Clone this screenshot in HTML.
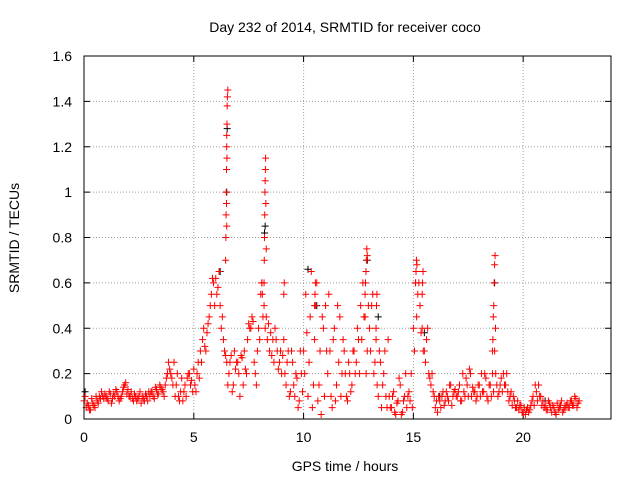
<!DOCTYPE html>
<html><head><meta charset="utf-8"><style>
html,body{margin:0;padding:0;background:#fff;}
svg text{font-family:"Liberation Sans",sans-serif;font-size:14px;fill:#000;}
</style></head><body>
<svg id="chart" width="640" height="480" xmlns="http://www.w3.org/2000/svg">
<text x="345" y="32" text-anchor="middle">Day 232 of 2014, SRMTID for receiver coco</text>
<text x="345" y="471" text-anchor="middle">GPS time / hours</text>
<text x="19" y="238" text-anchor="middle" transform="rotate(-90 19 238)">SRMTID / TECUs</text>
<g id="grid"></g>
<g id="ticks"></g>
<g id="pts"></g>
<rect x="84" y="56" width="527" height="363" fill="none" stroke="#000" stroke-width="1"/>
</svg>
<script>
const xTicks=[0,5,10,15,20];
const yTicks=[0,0.2,0.4,0.6,0.8,1,1.2,1.4,1.6];
const yTickLabels=["0","0.2","0.4","0.6","0.8","1","1.2","1.4","1.6"];
const trackA=[0.08,0.05,0.06,0.04,0.07,0.05,0.08,0.1,0.12,0.09,
0.1,0.08,0.11,0.09,0.1,0.12,0.08,0.1,0.14,0.16,
0.13,0.1,0.09,0.11,0.08,0.1,0.07,0.09,0.11,0.08,
0.1,0.12,0.09,0.13,0.11,0.14,0.12,0.15,0.2,0.22,
0.18,0.25,0.15,0.1,0.12,0.08,0.15,0.18,0.2,0.17,
0.22,0.12,0.25,0.3,0.35,0.32,0.38,0.45,0.55,0.6,
0.62,0.58,0.5,0.45,0.3,0.25,0.2,0.28,0.15,0.22,
0.25,0.1,0.27,0.3,0.2,0.42,0.4,0.43,0.2,0.3,
0.35,0.6,0.5,0.45,0.42,0.38,0.35,0.4,0.3,0.25,
0.2,0.35,0.15,0.3,0.12,0.25,0.1,0.18,0.08,0.2,
0.3,0.55,0.1,0.45,0.05,0.35,0.6,0.15,0.02,0.4,
0.5,0.2,0.3,0.05,0.4,0.15,0.25,0.1,0.35,0.2,
0.08,0.2,0.15,0.3,0.25,0.35,0.5,0.6,0.45,0.3,
0.4,0.5,0.2,0.35,0.1,0.25,0.15,0.3,0.05,0.1,
0.05,0.12,0.02,0.08,0.15,0.03,0.1,0.05,0.12,0.2,
0.4,0.6,0.55,0.5,0.4,0.3,0.35,0.2,0.15,0.12,
0.05,0.03,0.08,0.1,0.06,0.12,0.08,0.15,0.1,0.13,
0.1,0.15,0.08,0.12,0.18,0.1,0.2,0.14,0.12,0.1,
0.15,0.2,0.12,0.18,0.08,0.15,0.2,0.3,0.15,0.12,
0.18,0.2,0.15,0.12,0.1,0.06,0.08,0.05,0.04,0.06,
0.03,0.02,0.05,0.04,0.08,0.06,0.12,0.15,0.1,0.08,
0.06,0.04,0.07,0.03,0.05,0.02,0.04,0.06,0.03,0.05,
0.07,0.05,0.08,0.06,0.09,0.07];
const trackB=[0.1,0.07,0.04,0.09,0.06,0.1,0.07,0.09,0.1,0.11,
0.09,0.12,0.07,0.11,0.13,0.1,0.09,0.12,0.15,0.11,
0.1,0.12,0.08,0.1,0.09,0.12,0.1,0.08,0.1,0.12,
0.12,0.1,0.14,0.11,0.15,0.13,0.1,0.18,0.25,0.2,
0.15,0.1,0.2,0.08,0.18,0.12,0.1,0.2,0.15,0.12,
0.15,0.2,0.18,0.25,0.4,0.3,0.42,0.5,0.62,0.5,
0.55,0.65,0.4,0.35,0.28,0.15,0.25,0.12,0.3,0.25,
0.2,0.28,0.15,0.22,0.35,0.4,0.45,0.25,0.15,0.4,
0.55,0.45,0.4,0.35,0.3,0.28,0.25,0.35,0.22,0.3,
0.28,0.2,0.25,0.1,0.3,0.15,0.2,0.05,0.3,0.12,
0.2,0.38,0.25,0.65,0.15,0.5,0.08,0.3,0.45,0.1,
0.3,0.55,0.1,0.35,0.08,0.5,0.45,0.2,0.3,0.1,
0.25,0.12,0.3,0.2,0.4,0.2,0.35,0.45,0.2,0.5,
0.3,0.55,0.25,0.15,0.3,0.05,0.2,0.1,0.35,0.05,
0.1,0.03,0.07,0.18,0.02,0.08,0.2,0.1,0.08,0.05,
0.3,0.45,0.6,0.38,0.3,0.25,0.4,0.18,0.2,0.1,
0.08,0.1,0.05,0.12,0.08,0.1,0.15,0.06,0.12,0.1,
0.12,0.08,0.2,0.1,0.15,0.22,0.1,0.12,0.08,0.15,
0.1,0.12,0.2,0.1,0.15,0.1,0.12,0.2,0.1,0.15,
0.12,0.15,0.2,0.08,0.12,0.1,0.05,0.08,0.06,0.03,
0.05,0.04,0.03,0.06,0.1,0.15,0.08,0.1,0.06,0.05,
0.04,0.08,0.05,0.06,0.03,0.07,0.05,0.08,0.04,0.06,
0.05,0.08,0.06,0.1,0.05,0.08];
const spikeTimes=[6.45,6.46,6.47,6.48,6.49,6.5,6.51,6.52,6.53,6.55,6.5,6.51,6.49,6.5,
8.2,8.21,8.22,8.23,8.24,8.25,8.26,8.27,8.28,8.3,
12.8,12.82,12.84,12.86,12.88,12.9,
15.1,15.12,15.14,15.16,15.4,15.42,15.44,
18.6,18.62,18.64,18.66,18.68,18.7,18.72,18.74,
13.3,13.32,13.34,10.5,10.52,10.54,9.1,9.12,8.1,8.12];
const spikeValues=[0.7,0.8,0.9,1.0,1.1,1.2,1.3,1.38,1.42,1.45,1.25,1.15,0.95,0.85,
0.6,0.7,0.8,0.9,1.0,1.05,1.1,1.15,0.95,0.75,
0.55,0.6,0.65,0.7,0.75,0.72,
0.6,0.65,0.7,0.68,0.55,0.6,0.65,
0.3,0.35,0.45,0.5,0.6,0.68,0.72,0.4,
0.4,0.5,0.55,0.5,0.55,0.6,0.55,0.6,0.6,0.55];
const blackTimes=[0.05,6.2,6.5,6.52,8.22,8.25,10.2,10.6,12.9,13.4,15.5,16.2,18.7,21.0];
const blackValues=[0.12,0.65,1.0,1.28,0.82,0.85,0.66,0.5,0.7,0.45,0.38,0.1,0.6,0.08];

const X0=84,X1=611,Y0=419,Y1=56;
const xs=t=>X0+(t/24)*(X1-X0);
const ys=v=>Y0-(v/1.6)*(Y0-Y1);
const NS="http://www.w3.org/2000/svg";
const grid=document.getElementById('grid'),ticks=document.getElementById('ticks'),pts=document.getElementById('pts');
function mk(tag,attrs,parent){const e=document.createElementNS(NS,tag);for(const k in attrs)e.setAttribute(k,attrs[k]);parent.appendChild(e);return e;}
xTicks.forEach(t=>{
  const x=xs(t);
  if(t>0){const g=mk('line',{x1:x,x2:x,y1:Y0,y2:Y1,stroke:'#a0a0a0','stroke-dasharray':'1,2'},grid);
  
  }
  mk('line',{x1:x,x2:x,y1:Y0,y2:Y0-6,stroke:'#000'},ticks);
  mk('line',{x1:x,x2:x,y1:Y1,y2:Y1+6,stroke:'#000'},ticks);
  const l=mk('text',{x:x,y:Y0+23,'text-anchor':'middle'},ticks);l.textContent=t;
  
  
});
yTicks.forEach((v,i)=>{
  const y=ys(v);
  if(v>0&&v<1.6){const g=mk('line',{x1:X0,x2:X1,y1:y,y2:y,stroke:'#a0a0a0','stroke-dasharray':'1,2'},grid);
  
  }
  mk('line',{x1:X0,x2:X0+6,y1:y,y2:y,stroke:'#000'},ticks);
  mk('line',{x1:X1,x2:X1-6,y1:y,y2:y,stroke:'#000'},ticks);
  const l=mk('text',{x:X0-12,y:y+5,'text-anchor':'end'},ticks);l.textContent=yTickLabels[i];
  
  
});
function plus(t,v,color){
  const x=xs(t),y=ys(v);
  const p=mk('path',{d:`M${x-3.5},${y}h7M${x},${y-3.5}v7`,stroke:color,'stroke-width':1,fill:'none'},pts);
  
  
}
blackValues.forEach((v,i)=>plus(blackTimes[i],v,'#000'));
trackA.forEach((v,i)=>plus(i/10,v,'#ff0000'));
trackB.forEach((v,i)=>plus(i/10+0.05,v,'#ff0000'));
spikeValues.forEach((v,i)=>plus(spikeTimes[i],v,'#ff0000'));
</script>
</body></html>
